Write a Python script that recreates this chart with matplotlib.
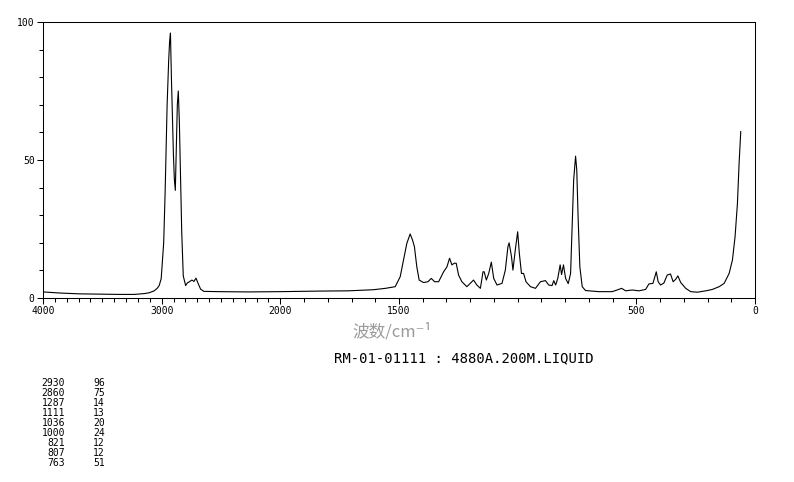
import numpy as np
import matplotlib
matplotlib.use('Agg')
import matplotlib.pyplot as plt
from matplotlib.ticker import FixedLocator, NullFormatter

# spectrum (wavenumber in cm-1, intensity in %)
wavenumber = [4000, 3858, 3690, 3523, 3356, 3230, 3146, 3105, 3063, 3038,
              3021, 3004, 2996, 2983, 2971, 2954, 2941, 2933, 2926, 2918,
              2910, 2901, 2893, 2885, 2876, 2868, 2860, 2851, 2839, 2831,
              2818, 2798, 2783, 2770, 2745, 2728, 2711, 2695, 2672, 2644,
              2519, 2268, 2000, 1840, 1713, 1608, 1557, 1516, 1495, 1481,
              1467, 1453, 1443, 1435, 1425, 1415, 1397, 1378, 1364, 1350,
              1333, 1312, 1298, 1287, 1277, 1267, 1259, 1249, 1235, 1214,
              1200, 1186, 1172, 1157, 1146, 1141, 1132, 1122, 1111, 1101,
              1087, 1066, 1052, 1041, 1036, 1026, 1020, 1010, 1000, 993,
              984, 975, 965, 946, 925, 904, 883, 869, 855, 848,
              840, 831, 821, 815, 807, 798, 787, 777, 771, 764,
              756, 751, 745, 738, 728, 714, 658, 602, 581, 562,
              545, 517, 489, 461, 447, 430, 416, 408, 398, 384,
              370, 356, 345, 334, 325, 313, 292, 271, 243, 207,
              180, 151, 130, 109, 95, 84, 74, 67, 60]
intensity = [2.2, 1.8, 1.5, 1.4, 1.3, 1.3, 1.6, 1.9, 2.6, 3.5,
             4.5, 7.0, 12.0, 20.0, 38.0, 70.0, 86.0, 93.0, 96.0, 80.0,
             67.0, 52.0, 43.0, 39.0, 55.0, 70.0, 75.0, 64.0, 40.0, 24.0,
             8.0, 4.5, 5.5, 5.8, 6.5, 6.0, 7.2, 5.5, 3.2, 2.4,
             2.3, 2.2, 2.3, 2.5, 2.6, 3.0, 3.5, 4.1, 7.7, 13.8,
             19.8, 23.2, 21.0, 18.6, 11.3, 6.5, 5.6, 5.9, 7.1, 5.9,
             5.9, 9.5, 11.3, 14.4, 12.0, 12.6, 12.6, 8.3, 5.9, 4.1,
             5.3, 6.5, 4.7, 3.5, 9.5, 9.5, 6.5, 8.9, 13.0, 7.1,
             4.7, 5.3, 10.1, 18.6, 20.0, 15.0, 10.1, 17.4, 24.0, 16.2,
             8.9, 8.9, 5.9, 4.1, 3.5, 5.9, 6.3, 4.7, 4.5, 6.3,
             4.7, 7.1, 12.0, 8.5, 12.0, 7.1, 5.2, 8.9, 24.6, 42.8,
             51.4, 46.4, 28.3, 11.3, 4.1, 2.7, 2.3, 2.3, 2.9, 3.5,
             2.6, 2.9, 2.6, 3.1, 5.1, 5.3, 9.5, 5.9, 4.7, 5.4,
             8.3, 8.7, 5.9, 6.8, 8.0, 5.6, 3.5, 2.3, 2.1, 2.6,
             3.1, 4.1, 5.3, 8.9, 13.8, 22.2, 34.3, 48.8, 60.3]

# peak list printed under the chart
peak_wn = [2930, 2860, 1287, 1111, 1036, 1000, 821, 807, 763]
peak_int = [96, 75, 14, 13, 20, 24, 12, 12, 51]

x_major = [4000, 3000, 2000, 1500, 500, 0]
y_major = [0, 50, 100]


# axis is compressed above 2000 cm-1 (half scale)
def fwd(x):
    x = np.asarray(x, dtype=float)
    return np.where(x > 2000, 2000 + (x - 2000) / 2, x)


def inv(u):
    u = np.asarray(u, dtype=float)
    return np.where(u > 2000, 2000 + (u - 2000) * 2, u)


fig = plt.figure(figsize=(7.94, 4.82), dpi=100)
ax = fig.add_axes([43 / 794, 1 - 298 / 482, 712 / 794, 276 / 482])

ax.plot(wavenumber, intensity, color='black', lw=0.8)

ax.set_xscale('function', functions=(fwd, inv))
ax.set_xlim(4000, 0)
ax.set_ylim(0, 100)

ax.xaxis.set_major_locator(FixedLocator(x_major))
ax.xaxis.set_minor_locator(FixedLocator(np.arange(0, 4001, 100)))
ax.xaxis.set_minor_formatter(NullFormatter())
ax.set_xticklabels([str(v) for v in x_major])
ax.yaxis.set_major_locator(FixedLocator(y_major))
ax.yaxis.set_minor_locator(FixedLocator(np.arange(0, 101, 10)))
ax.set_yticklabels([str(v) for v in y_major])

ax.tick_params(which='both', direction='out', width=0.75, colors='black')
ax.tick_params(which='major', length=4, pad=2, labelsize=7)
ax.tick_params(which='minor', length=3)
for lab in ax.get_xticklabels() + ax.get_yticklabels():
    lab.set_family('DejaVu Sans Mono')
for sp in ax.spines.values():
    sp.set_linewidth(0.75)

fig.text(392 / 794, 1 - 332 / 482, '波数/cm⁻¹', ha='center', va='center',
         fontsize=12, color='#9a9a9a', family=['Noto Sans CJK SC', 'DejaVu Sans'])
fig.text(464 / 794, 1 - 358 / 482, 'RM-01-01111 : 4880A.200M.LIQUID',
         ha='center', va='center', fontsize=10, family='DejaVu Sans Mono')

for i in range(len(peak_wn)):
    y = 1 - (383 + 10 * i) / 482
    fig.text(65 / 794, y, str(peak_wn[i]), ha='right', va='center',
             fontsize=7, family='DejaVu Sans Mono')
    fig.text(105 / 794, y, str(peak_int[i]), ha='right', va='center',
             fontsize=7, family='DejaVu Sans Mono')

fig.savefig('out.png', dpi=100)
